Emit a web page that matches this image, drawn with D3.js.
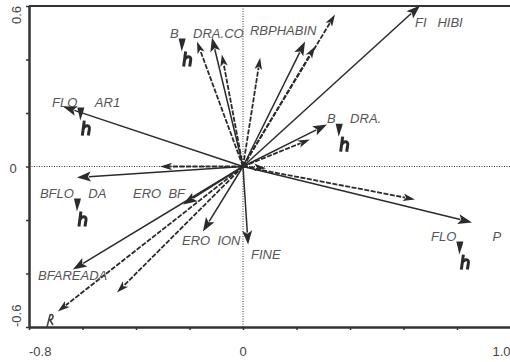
<!DOCTYPE html>
<html>
<head>
<meta charset="utf-8">
<script src="https://cdn.jsdelivr.net/npm/d3@7"></script>
<style>
  body { margin: 0; background: #fff; }
  svg { display: block; }
  .lbl { font-family: "Liberation Sans", Arial, sans-serif; font-size: 13px; font-style: italic; fill: #555; white-space: pre; }
  .tick-lbl { font-family: "Liberation Sans", Arial, sans-serif; font-size: 13px; fill: #444; }
</style>
</head>
<body>
<svg width="510" height="362"></svg>
<script>
// vector end points (biplot arrows from the origin)
const vecX = [-0.673, -0.621, -0.310, -0.224, -0.636, -0.692, -0.471, -0.150, 0.019, 0.856, 0.643, 0.086,
  0.314, 0.250, 0.662, 0.232, 0.269, 0.344, 0.064, -0.172, -0.116, -0.079]
const vecY = [0.224, -0.041, 0.000, -0.142, -0.385, -0.542, -0.471, -0.243, -0.292, -0.209, -0.123, -0.007,
  0.157, 0.101, 0.602, 0.467, 0.449, 0.568, 0.407, 0.467, 0.482, 0.419]
const vecDashed = [false, false, true, false, false, true, true, false, false, false, true, true,
  false, true, false, false, true, true, true, true, false, true]

// labels (positions in data units)
const labelText = ["B    DRA.CO", "RBPHABIN", "FI   HIBI", "FLO     AR1", "B    DRA.", "BFLO    DA",
  "ERO  BF", "ERO  ION", "FINE", "BFAREADA", "FLO          P"]
const labelX = [-0.273, 0.026, 0.643, -0.714, 0.314, -0.759, -0.411, -0.228, 0.030, -0.766, 0.703]
const labelY = [0.482, 0.490, 0.520, 0.224, 0.164, -0.116, -0.116, -0.295, -0.344, -0.426, -0.277]
const labelGlyph = [true, false, false, true, true, true, false, false, false, false, true]

const ticksX = [-0.8, -0.6, -0.4, -0.2, 0, 0.2, 0.4, 0.6, 0.8, 1.0]
const ticksY = [-0.6, -0.4, -0.2, 0, 0.2, 0.4, 0.6]
const tickLabelsX = ["-0.8", "0", "1.0"]
const tickLabelsY = ["-0.6", "0", "0.6"]

const svg = d3.select("svg")
const x = d3.scaleLinear().domain([-0.8, 1.0]).range([29, 510.5])
const y = d3.scaleLinear().domain([-0.6, 0.6]).range([327, 6])
const ink = "#2b2b2b"

// zero lines
svg.append("line").attr("x1", x(0)).attr("x2", x(0)).attr("y1", y(0.6)).attr("y2", y(-0.6))
  .attr("stroke", "#333").attr("stroke-width", 1).attr("stroke-dasharray", "1,1.5")
svg.append("line").attr("x1", x(-0.8)).attr("x2", 510).attr("y1", y(0)).attr("y2", y(0))
  .attr("stroke", "#333").attr("stroke-width", 1).attr("stroke-dasharray", "1,1.5")

// frame + ticks
svg.append("g").attr("transform", "translate(0," + y(-0.6) + ")")
  .call(d3.axisBottom(x).tickValues(ticksX).tickSize(3).tickSizeOuter(0).tickFormat(""))
svg.append("g").attr("transform", "translate(" + x(-0.8) + ",0)")
  .call(d3.axisLeft(y).tickValues(ticksY).tickSize(3).tickSizeOuter(0).tickFormat(""))
svg.selectAll(".domain").attr("stroke", "#333").attr("stroke-width", 2.5)
svg.selectAll(".tick line").attr("stroke", "#333").attr("stroke-width", 1.5)
svg.append("line").attr("x1", x(-0.8)).attr("x2", 510).attr("y1", y(0.6)).attr("y2", y(0.6))
  .attr("stroke", "#333").attr("stroke-width", 2)

// tick labels
tickLabelsX.forEach((t, i) => {
  svg.append("text").attr("class", "tick-lbl")
    .attr("x", x(+t)).attr("y", 356)
    .attr("text-anchor", i === 0 ? "start" : i === 1 ? "middle" : "end")
    .text(t)
})
tickLabelsY.forEach((t, i) => {
  if (i === 1) {
    svg.append("text").attr("class", "tick-lbl").attr("x", 13).attr("y", y(0) + 6)
      .attr("text-anchor", "middle").text(t)
  } else {
    svg.append("text").attr("class", "tick-lbl")
      .attr("transform", "translate(21," + y(+t) + ") rotate(-90)")
      .attr("text-anchor", i === 0 ? "start" : "end")
      .text(t)
  }
})

// arrows
const vecs = vecX.map((vx, i) => ({ x: vx, y: vecY[i], dashed: vecDashed[i] }))
const x0 = x(0), y0 = y(0)
vecs.forEach(d => {
  const tx = x(d.x), ty = y(d.y)
  const dx = tx - x0, dy = ty - y0
  const len = Math.sqrt(dx * dx + dy * dy)
  const ux = dx / len, uy = dy / len
  const hl = d.dashed ? 12 : 14, hw = d.dashed ? 3.8 : 5
  const bx = tx - ux * hl, by = ty - uy * hl
  svg.append("line").attr("x1", x0).attr("y1", y0).attr("x2", bx + ux * 2).attr("y2", by + uy * 2)
    .attr("stroke", ink).attr("stroke-width", d.dashed ? 1.8 : 1.5)
    .attr("stroke-dasharray", d.dashed ? "5,1.5" : null)
  svg.append("path")
    .attr("d", "M" + tx + "," + ty + "L" + (bx - uy * hw) + "," + (by + ux * hw) +
      "L" + (bx + ux * 3) + "," + (by + uy * 3) +
      "L" + (bx + uy * hw) + "," + (by - ux * hw) + "Z")
    .attr("fill", ink)
})

// labels
labelText.forEach((t, i) => {
  const parts = t.split(/(\s+)/)
  const txt = svg.append("text").attr("class", "lbl")
    .attr("x", x(labelX[i])).attr("y", y(labelY[i]))
    .text(t)
  if (labelGlyph[i]) {
    // broken symbol glyph rendered under the gap
    const ex = x(labelX[i]) + txt.node().getSubStringLength(0, parts[0].length)
    const by = y(labelY[i])
    const g = svg.append("g").attr("transform", "translate(" + ex + "," + by + ")")
    g.append("path").attr("d", "M0,1L7,1L6,5L3,14Z").attr("fill", ink)
    g.append("path").attr("d", "M7,14L5,29M6,22C8,18 13,18 12,23L11,29")
      .attr("fill", "none").attr("stroke", ink).attr("stroke-width", 3)
  }
})

// clipped fragment at the lower left corner
svg.append("path").attr("d", "M" + (x(-0.8) + 18) + "," + y(-0.6) + "L" + (x(-0.8) + 21) + "," + (y(-0.6) - 12) +
  "C" + (x(-0.8) + 25) + "," + (y(-0.6) - 14) + " " + (x(-0.8) + 25) + "," + (y(-0.6) - 8) + " " + (x(-0.8) + 21) + "," + (y(-0.6) - 7) +
  "L" + (x(-0.8) + 24) + "," + (y(-0.6) - 2))
  .attr("fill", "none").attr("stroke", "#444").attr("stroke-width", 1.6)
</script>
</body>
</html>
